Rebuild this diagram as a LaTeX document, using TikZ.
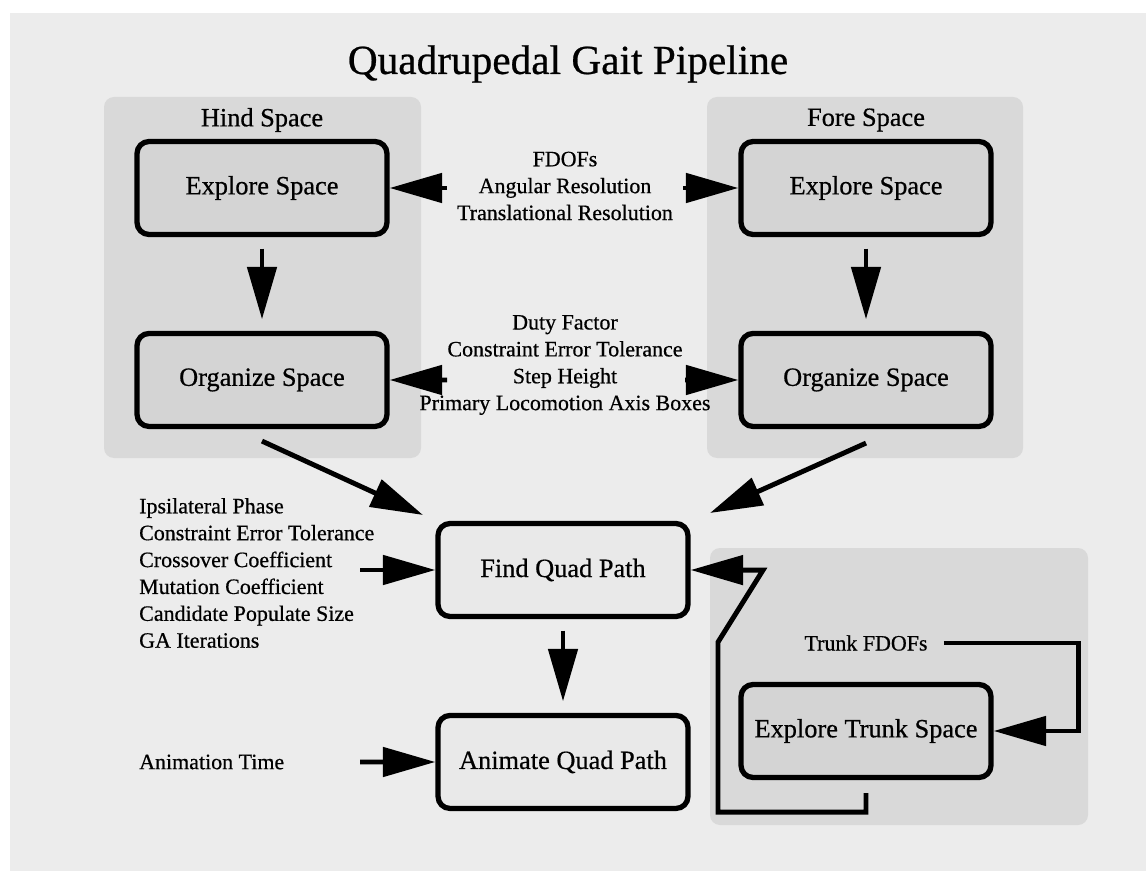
\documentclass[tikz,border=0pt]{standalone}
\usepackage{fontspec}
\setmainfont[FakeBold=0.6]{Liberation Serif}
\usepackage{tikz}
\usetikzlibrary{arrows.meta, positioning}
\definecolor{pagegray}{HTML}{ECECEC}
\definecolor{panelgray}{HTML}{D9D9D9}
\definecolor{boxgray}{HTML}{D4D4D4}
\definecolor{lightbox}{HTML}{E9E9E9}
\tikzstyle{panel} = [fill=panelgray, rounded corners=0.2cm]
\tikzstyle{box} = [rectangle, rounded corners=0.24cm, minimum width=5cm, minimum height=1.86cm, text centered, draw=black, line width=3pt, fill=boxgray, font=\fontsize{15}{18}\selectfont]
\tikzstyle{spacename} = [font=\fontsize{15}{18}\selectfont]
\tikzstyle{param} = [align=center, font=\fontsize{12.5}{15.3}\selectfont]
\tikzstyle{arrow} = [line width=2.8pt, -{Triangle[length=1.05cm, width=0.58cm]}]
\tikzstyle{gap} = [shorten <=0.23cm, shorten >=0.23cm]

\begin{document}
\begin{tikzpicture}[x=0.02cm, y=-0.02cm, node distance=3.84cm]

    \useasboundingbox (0,0) rectangle (1146,871);
    \fill[white] (0,0) rectangle (1146,871);
    \fill[pagegray] (10,13) rectangle (1146,871);
    \fill[panel] (104,97) rectangle (421,458);
    \fill[panel] (707,97) rectangle (1023,458);
    \fill[panel] (710,548) rectangle (1088,825);

    \node (title) at (568,64) [font=\fontsize{23.5}{28}\selectfont] {Quadrupedal Gait Pipeline};
    \node (hind) at (262,120) [spacename] {Hind Space};
    \node (fore) at (866,120) [spacename] {Fore Space};

    \node (hexp) at (262,188) [box] {Explore Space};
    \node (horg) [box, below of=hexp] {Organize Space};
    \node (fexp) at (866,188) [box] {Explore Space};
    \node (forg) [box, below of=fexp] {Organize Space};
    \node (find) at (563,570) [box, fill=lightbox] {Find Quad Path};
    \node (anim) [box, fill=lightbox, below of=find] {Animate Quad Path};
    \node (trunk) at (866,731) [box] {Explore Trunk Space};

    \node (p1) at (565,186) [param] {FDOFs\\Angular Resolution\\Translational Resolution};
    \node (p2) at (565,365) [param] {Duty Factor\\Constraint Error Tolerance\\Step Height\\Primary Locomotion Axis Boxes};
    \node (gaparams) at (133,573) [param, anchor=west, align=left] {Ipsilateral Phase\\Constraint Error Tolerance\\Crossover Coefficient\\Mutation Coefficient\\Candidate Populate Size\\GA Iterations};
    \node (anitime) at (133,762) [param, anchor=west] {Animation Time};
    \node (tfdof) at (866,643) [param] {Trunk FDOFs};

    \coordinate (p1l) at (447,188);
    \coordinate (p1r) at (683,188);
    \coordinate (p2l) at (447,380);
    \coordinate (p2r) at (685,380);
    \coordinate (hdiag) at (423,515);
    \coordinate (fdiag) at (710,513);
    \coordinate (gain) at (360,570);
    \coordinate (tin) at (360,762);

    \draw [arrow, gap] (hexp) -- (horg);
    \draw [arrow, gap] (fexp) -- (forg);
    \draw [arrow] (p1l) -- (hexp);
    \draw [arrow] (p1r) -- (fexp);
    \draw [arrow] (p2l) -- (horg);
    \draw [arrow] (p2r) -- (forg);
    \draw [arrow] ([yshift=-0.24cm]horg.south) -- (hdiag);
    \draw [arrow] ([yshift=-0.28cm]forg.south) -- (fdiag);
    \draw [arrow] (gain) -- (find);
    \draw [arrow, gap] (find) -- (anim);
    \draw [arrow] (tin) -- (anim);
    \draw [arrow] ([xshift=0.2cm]tfdof.east) -- ++(135,0) |- (trunk.east);
    \draw [arrow] ([yshift=-0.26cm]trunk.south) -- ++(0,19) -- ++(-148,0) -- ++(0,-170) -- ++(45,-72) -- (find.east);

\end{tikzpicture}
\end{document}
